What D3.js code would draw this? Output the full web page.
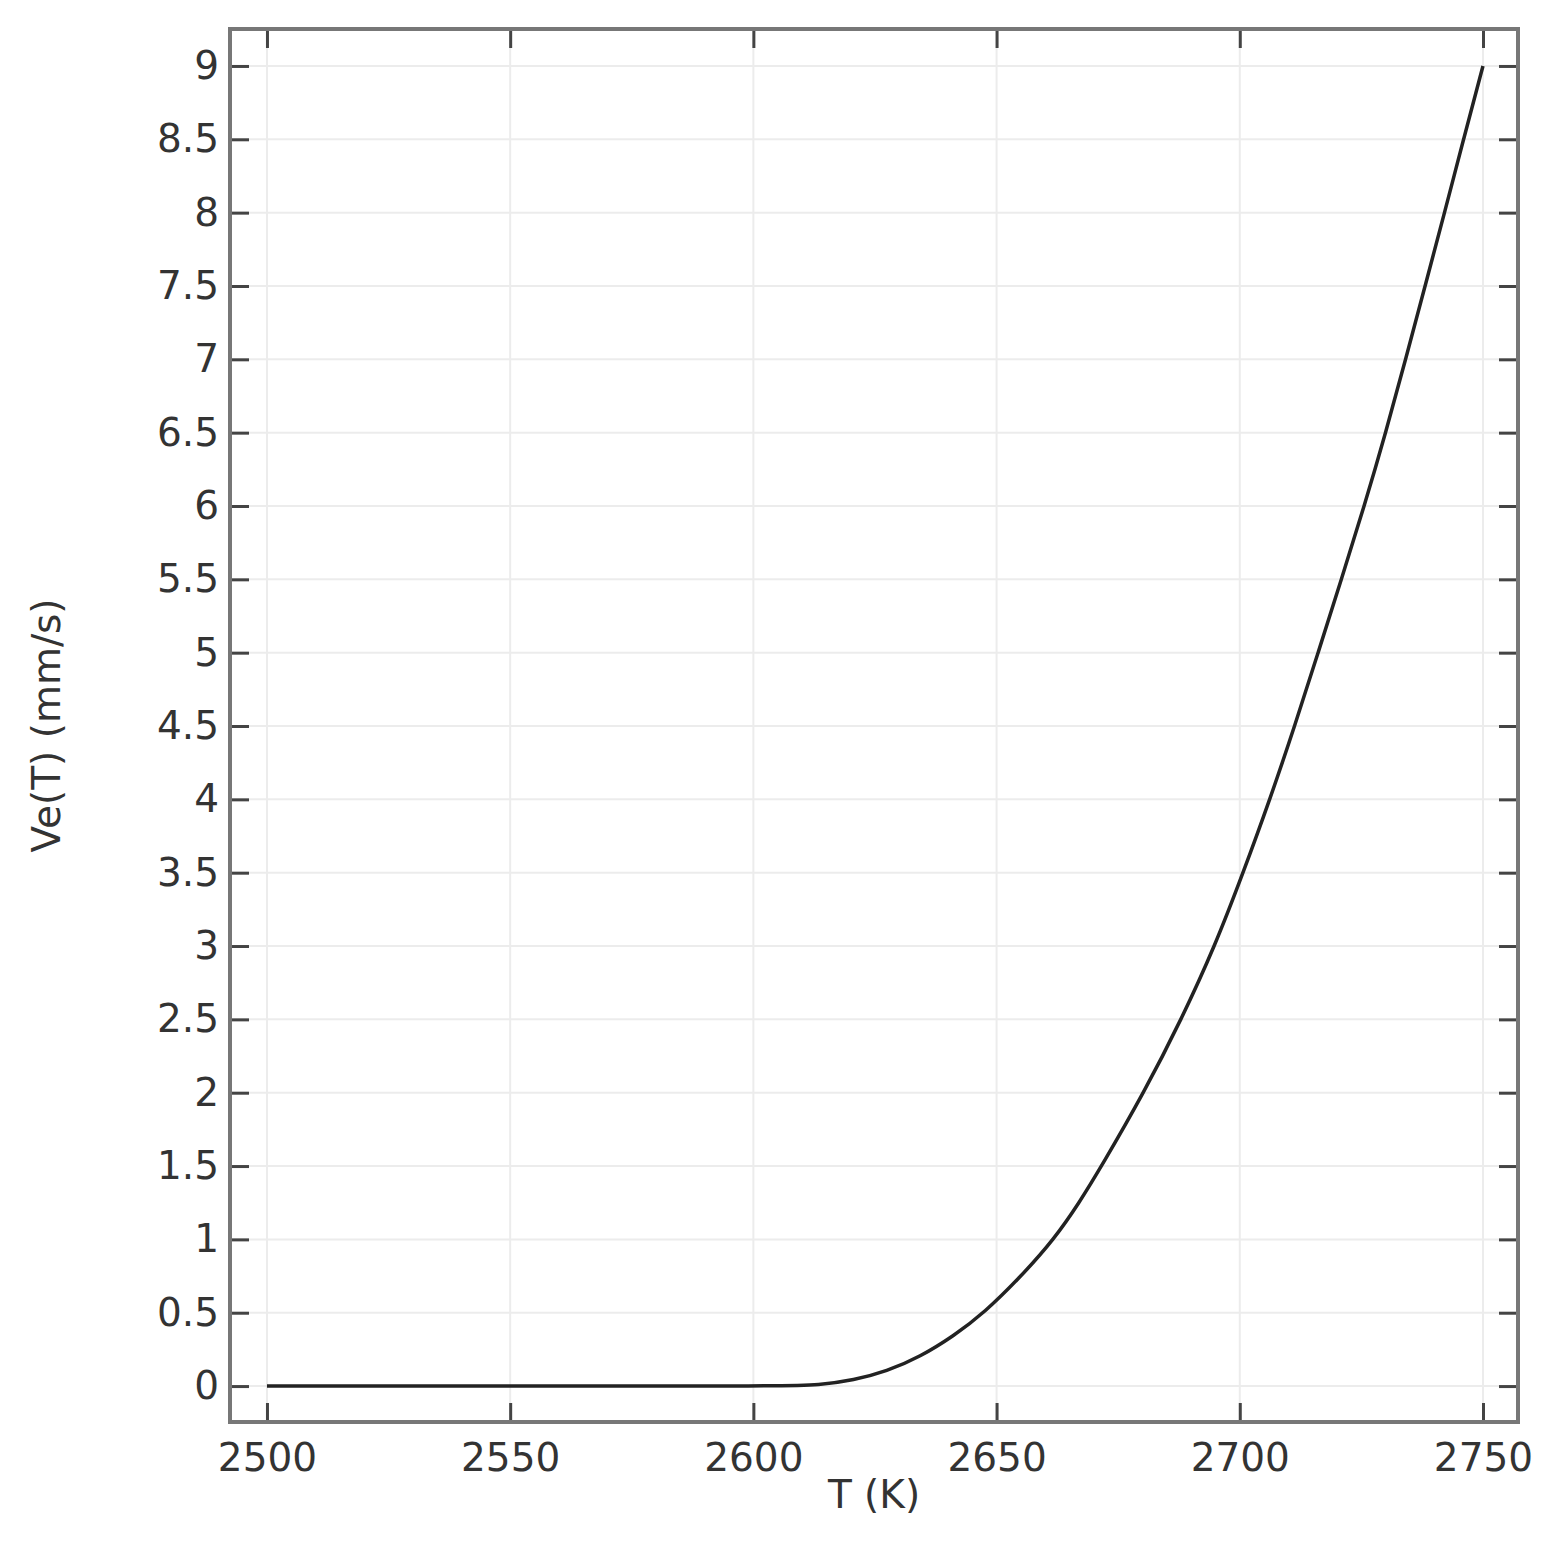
<!DOCTYPE html>
<html>
<head>
<meta charset="utf-8">
<script src="https://cdn.jsdelivr.net/npm/d3@7"></script>
<style>
  body { margin: 0; background: #fff; }
  text { font-family: "DejaVu Sans", sans-serif; fill: #333; }
</style>
</head>
<body>
<script>
// values
const temps = [2500, 2560, 2605, 2613.7, 2620.6, 2627.4, 2634.3, 2641.1, 2647.5, 2655.1, 2661.8, 2667, 2671.6,
               2680.3, 2688, 2694.9, 2700.7, 2706.2, 2711.3, 2716.1, 2720.9, 2725.6, 2730, 2734.1, 2738.1,
               2742.1, 2746, 2750];
const velocity = [0, 0, 0, 0.007, 0.04, 0.1, 0.2, 0.34, 0.5, 0.75, 1.0, 1.25, 1.5,
                  2.0, 2.5, 3.0, 3.5, 4.0, 4.5, 5.0, 5.5, 6.0, 6.5, 7.0, 7.5,
                  8.0, 8.5, 9.0];
const xTicks = [2500, 2550, 2600, 2650, 2700, 2750];
const yTicks = [0, 0.5, 1, 1.5, 2, 2.5, 3, 3.5, 4, 4.5, 5, 5.5, 6, 6.5, 7, 7.5, 8, 8.5, 9];

const W = 1553, H = 1542;
const margin = {top: 29, right: 35, bottom: 120, left: 230};
const width = W - margin.left - margin.right;
const height = H - margin.top - margin.bottom;

const svg = d3.select("body").append("svg")
    .attr("width", W)
    .attr("height", H);

const g = svg.append("g")
    .attr("transform", "translate(" + margin.left + "," + margin.top + ")");

const x = d3.scaleLinear().domain([2492.4, 2757.2]).range([0, width]);
const y = d3.scaleLinear().domain([-0.245, 9.252]).range([height, 0]);

// grid
g.append("g")
  .selectAll("line")
  .data(xTicks)
  .enter().append("line")
  .attr("x1", d => x(d)).attr("x2", d => x(d))
  .attr("y1", 0).attr("y2", height)
  .attr("stroke", "#ececec").attr("stroke-width", 2);

g.append("g")
  .selectAll("line")
  .data(yTicks)
  .enter().append("line")
  .attr("y1", d => y(d)).attr("y2", d => y(d))
  .attr("x1", 0).attr("x2", width)
  .attr("stroke", "#ececec").attr("stroke-width", 2);

// axes, ticks pointing in
const tickLen = 19;
const styleAxis = sel => {
  sel.select(".domain").remove();
  sel.selectAll(".tick line").attr("stroke", "#444").attr("stroke-width", 3);
  sel.selectAll(".tick text").style("font-size", "39px").attr("fill", "#333");
};

g.append("g")
  .attr("transform", "translate(0," + height + ")")
  .call(d3.axisBottom(x).tickValues(xTicks).tickSize(-tickLen).tickPadding(21).tickFormat(d3.format("d")))
  .call(styleAxis);

g.append("g")
  .call(d3.axisTop(x).tickValues(xTicks).tickSize(-tickLen).tickFormat(""))
  .call(styleAxis);

g.append("g")
  .call(d3.axisLeft(y).tickValues(yTicks).tickSize(-tickLen).tickPadding(11).tickFormat(d => d))
  .call(styleAxis);

g.append("g")
  .attr("transform", "translate(" + width + ",0)")
  .call(d3.axisRight(y).tickValues(yTicks).tickSize(-tickLen).tickFormat(""))
  .call(styleAxis);

// frame
g.append("rect")
  .attr("x", 0).attr("y", 0)
  .attr("width", width).attr("height", height)
  .attr("fill", "none")
  .attr("stroke", "#777")
  .attr("stroke-width", 4);

// curve (basis smooths out reading noise)
const line = d3.line()
  .x((d, i) => x(temps[i]))
  .y(d => y(d))
  .curve(d3.curveBasis);

g.append("path")
  .datum(velocity)
  .attr("d", line)
  .attr("fill", "none")
  .attr("stroke", "#222")
  .attr("stroke-width", 3.5);

// labels
svg.append("text")
  .attr("x", margin.left + width / 2)
  .attr("y", 1508)
  .attr("text-anchor", "middle")
  .style("font-size", "39px")
  .text("T (K)");

svg.append("text")
  .attr("transform", "translate(60," + (margin.top + height / 2) + ") rotate(-90)")
  .attr("text-anchor", "middle")
  .style("font-size", "39px")
  .text("Ve(T) (mm/s)");
</script>
</body>
</html>
